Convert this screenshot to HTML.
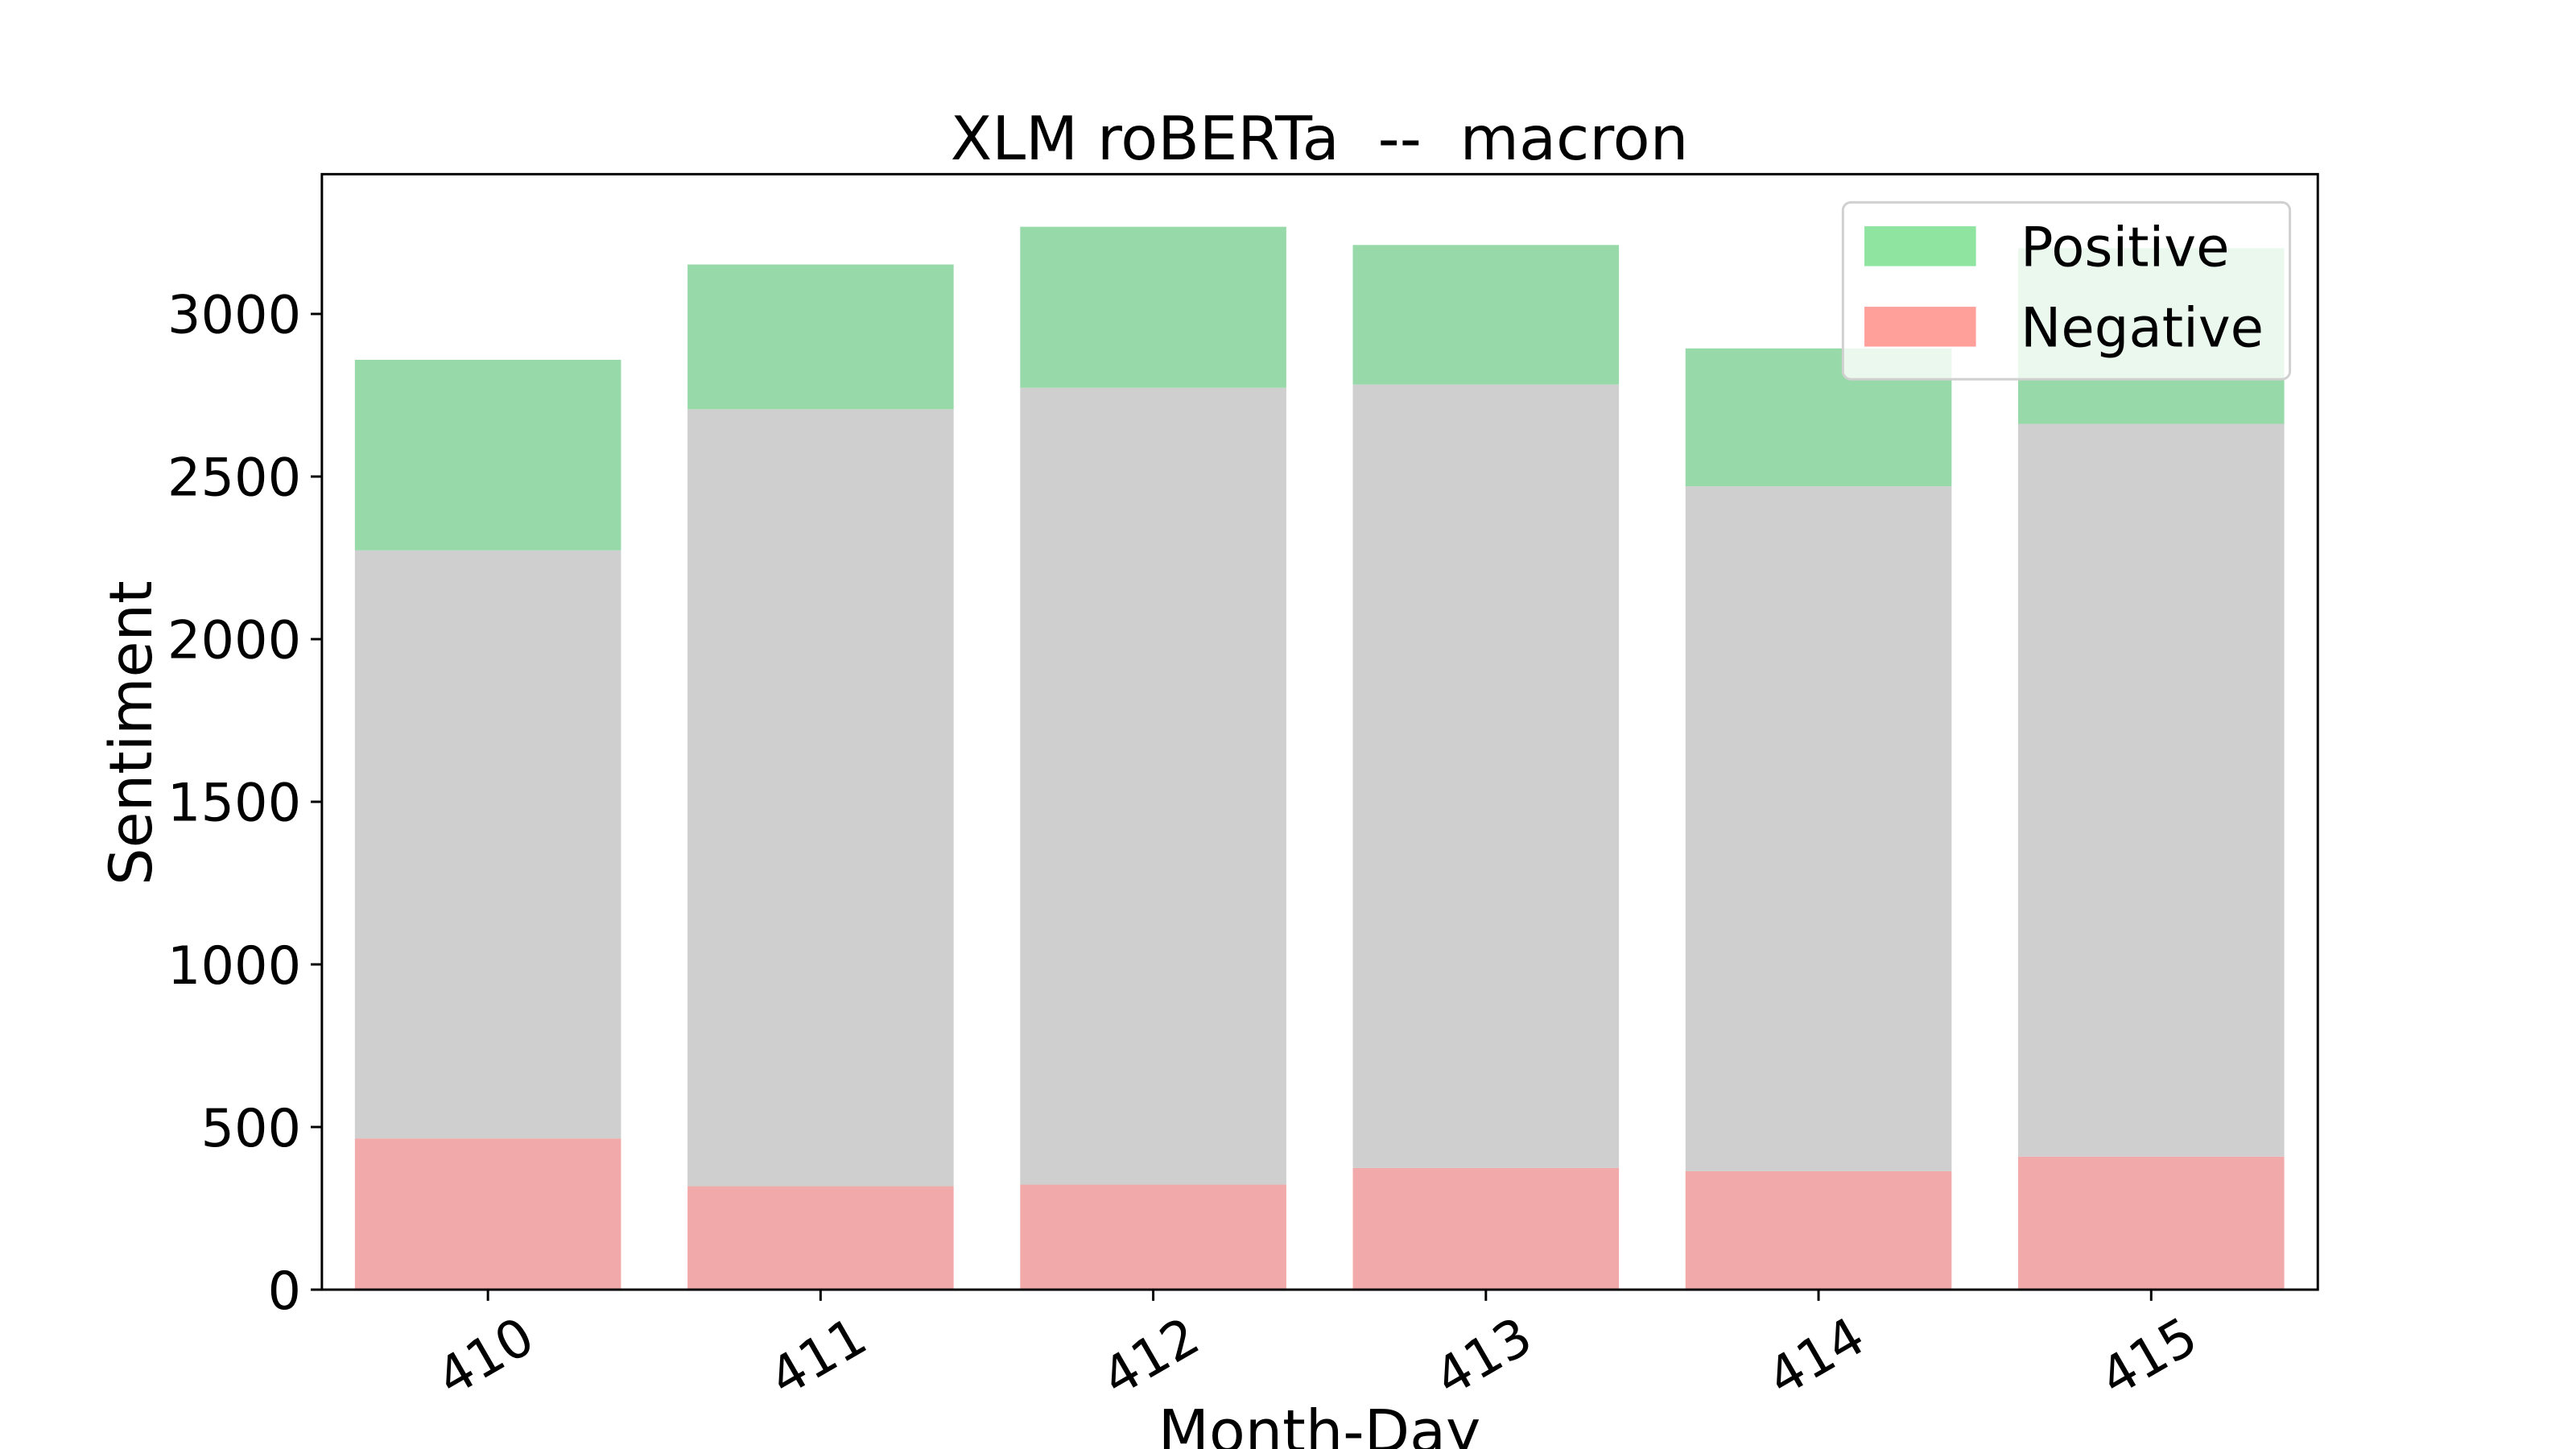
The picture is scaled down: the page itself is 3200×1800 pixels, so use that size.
<!DOCTYPE html>
<html><head><meta charset="utf-8"><style>
html,body{margin:0;padding:0;background:#fff;width:3200px;height:1800px;overflow:hidden}
text{font-family:"DejaVu Sans","Liberation Sans",sans-serif;white-space:pre}
</style></head><body>
<svg id="chart" width="3200" height="1800" viewBox="0 0 3200 1800" xmlns="http://www.w3.org/2000/svg">
<g transform="scale(0.98977)">
<text x="1656" y="200" font-size="76" text-anchor="middle" xml:space="preserve">XLM roBERTa  --  macron</text>
<g id="bars"></g>
<g id="axes"></g>
<text x="0" y="0" font-size="74" text-anchor="middle" transform="translate(190,920) rotate(-90)">Sentiment</text>
<text x="1656" y="1822" font-size="74" text-anchor="middle">Month-Day</text>
<g>
<rect x="2313" y="254" width="561" height="222" rx="10" fill="#fff" fill-opacity="0.8" stroke="#d0d0d0" stroke-width="3"/>
<rect x="2340" y="284" width="140" height="50" fill="#8fe5a0"/>
<text x="2536" y="334" font-size="68">Positive</text>
<rect x="2340" y="385" width="140" height="50" fill="#ffa09b"/>
<text x="2536" y="435" font-size="68">Negative</text>
</g>
</g>
</svg>
<script>
const categories = ["410","411","412","413","414","415"];
const negative = [465, 318, 323, 374, 364, 409];
const neutral = [1808, 2389, 2450, 2409, 2106, 2253];
const positive = [586, 445, 495, 429, 424, 540];
const yTicks = [0, 500, 1000, 1500, 2000, 2500, 3000];

const NS = "http://www.w3.org/2000/svg";
const L = 404, R = 2909, T = 218.6, B = 1618.6;
const yScale = v => B - v * (1618.6 - 394) / 3000;
const step = 417.5, x0 = 612.4;
const xScale = i => x0 + i * step;
const bw = step * 0.8;

function mk(tag, attrs, parent) {
  const e = document.createElementNS(NS, tag);
  for (const k in attrs) e.setAttribute(k, attrs[k]);
  parent.appendChild(e);
  return e;
}
const bars = document.getElementById('bars');
const axes = document.getElementById('axes');

categories.forEach((c, i) => {
  const cx = xScale(i);
  const segs = [[0, negative[i], '#f1aaa9', 'negative'],
                [negative[i], negative[i] + neutral[i], '#cfcfcf', 'neutral'],
                [negative[i] + neutral[i], negative[i] + neutral[i] + positive[i], '#98d9a9', 'positive']];
  segs.forEach(s => {
    const r = mk('rect', {x: cx - bw / 2, y: yScale(s[1]), width: bw, height: yScale(s[0]) - yScale(s[1]), fill: s[2]}, bars);
    
    
  });
  const t = mk('line', {x1: cx, x2: cx, y1: B, y2: B + 14, stroke: '#000', 'stroke-width': 3}, axes);
  
  
  const lb = mk('text', {x: 0, y: 0, 'font-size': 66, 'text-anchor': 'middle', transform: `translate(${cx + 8},${B + 104}) rotate(-30)`}, axes);
  lb.textContent = c;
  
  
});

yTicks.forEach(v => {
  const y = yScale(v);
  const t = mk('line', {x1: L - 14, x2: L, y1: y, y2: y, stroke: '#000', 'stroke-width': 3}, axes);
  
  
  const lb = mk('text', {x: L - 26, y: y + 24, 'font-size': 66, 'text-anchor': 'end'}, axes);
  lb.textContent = v;
  
  
});

const frame = mk('rect', {x: L, y: T, width: R - L, height: B - T, fill: 'none', stroke: '#000', 'stroke-width': 3}, axes);


</script>
</body></html>
